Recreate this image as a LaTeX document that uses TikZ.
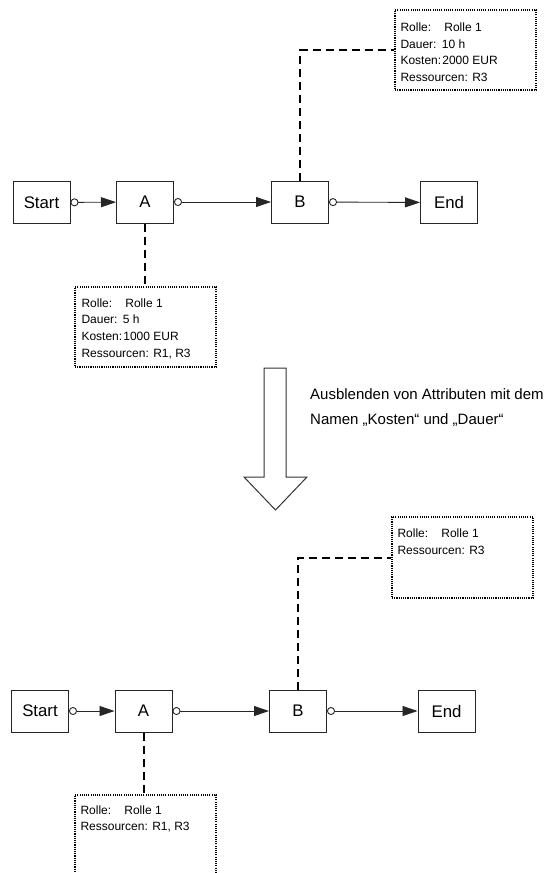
\documentclass[tikz,border=0pt]{standalone}
\usepackage{fontspec}
\setmainfont{Liberation Sans}
\usetikzlibrary{arrows.meta}

\begin{document}
\begin{tikzpicture}[x=1pt,y=-1pt,
  proc/.style={draw=black!85, line width=1pt, minimum width=57pt,
    minimum height=42pt, inner sep=0pt, font=\fontsize{16.8}{18}\selectfont},
  flow/.style={draw=black!85, line width=0.9pt,
    {Circle[open,length=8pt,width=8pt]}-{Triangle[length=15pt,width=10pt]}},
  link/.style={draw=black, line width=2pt, dash pattern=on 8pt off 5pt},
  attrbox/.style={draw=black, line width=1.4pt, dash pattern=on 1.1pt off 1.1pt,
    minimum width=141pt, inner sep=0pt},
  attr/.style={anchor=north west, align=left, inner sep=0pt,
    font=\fontsize{12}{16.6}\selectfont},
  bigarrow/.style={draw=black!80, line width=1pt, fill=white},
  note/.style={anchor=north west, align=left, inner sep=0pt,
    font=\fontsize{15}{25}\selectfont}
]
\useasboundingbox (0,0) rectangle (554,873);

% ---------- process before hiding attributes ----------
\node[proc] (s1) at (41.5,202.5) {Start};
\node[proc] (a1) at (145,202) {A};
\node[proc] (b1) at (300,202) {B};
\node[proc] (e1) at (449,202.5) {End};

\draw[flow] (s1) -- (a1);
\draw[flow] (a1) -- (b1);
\draw[flow] (b1) -- (e1);

\node[attrbox, minimum height=80pt] (nb1) at (465.5,50) {};
\node[attr] (tb1) at ([xshift=6pt,yshift=-13.5pt]nb1.north west)
  {Rolle:\hspace{1.1em}Rolle 1\\
   Dauer:\hspace{0.45em}10 h\\
   Kosten:\hspace{0.1em}2000 EUR\\
   Ressourcen: R3};
\draw[link] (b1.north) |- (nb1.west);

\node[attrbox, minimum height=80pt] (na1) at (145.5,327) {};
\node[attr] (ta1) at ([xshift=7pt,yshift=-12pt]na1.north west)
  {Rolle:\hspace{1.1em}Rolle 1\\
   Dauer:\hspace{0.45em}5 h\\
   Kosten:\hspace{0.1em}1000 EUR\\
   Ressourcen: R1, R3};
\draw[link] (a1.south) -- (a1.south |- na1.north);

% ---------- transformation arrow ----------
\draw[bigarrow] (264,368) -- (286,368) -- (286,477) -- (307,477)
  -- (275.5,510) -- (244,477) -- (264,477) -- cycle;
\node[note] (txt) at (310,388)
  {Ausblenden von Attributen mit dem\\Namen „Kosten“ und „Dauer“};

% ---------- process after hiding attributes ----------
\node[proc] (s2) at (40,711) {Start};
\node[proc] (a2) at (143.5,711) {A};
\node[proc] (b2) at (298,711) {B};
\node[proc] (e2) at (446.5,711) {End};

\draw[flow] (s2) -- (a2);
\draw[flow] (a2) -- (b2);
\draw[flow] (b2) -- (e2);

\node[attrbox, minimum height=81pt] (nb2) at (462.5,557.5) {};
\node[attr] (tb2) at ([xshift=6pt,yshift=-12.5pt]nb2.north west)
  {Rolle:\hspace{1.1em}Rolle 1\\
   Ressourcen: R3};
\draw[link] (b2.north) |- (nb2.west);

\node[attrbox, minimum height=80pt] (na2) at (145.5,835) {};
\node[attr] (ta2) at ([xshift=6pt,yshift=-11pt]na2.north west)
  {Rolle:\hspace{1.1em}Rolle 1\\
   Ressourcen: R1, R3};
\draw[link] (a2.south) -- (a2.south |- na2.north);
\end{tikzpicture}
\end{document}
